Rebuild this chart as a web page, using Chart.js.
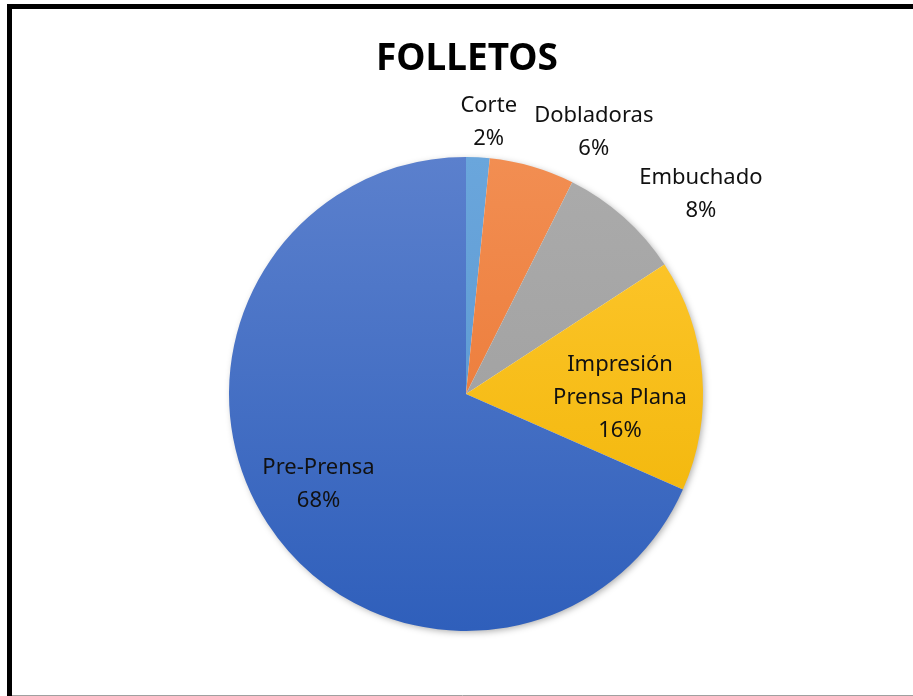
<!DOCTYPE html>
<html>
<head>
<meta charset="utf-8">
<script src="https://cdn.jsdelivr.net/npm/chart.js@4"></script>
<style>
  body { margin: 0; background: #fff; }
  #wrap { width: 913px; height: 696px; }
</style>
</head>
<body>
<div id="wrap"><canvas id="chart" width="913" height="696"></canvas></div>
<script>
const chartTitle = 'FOLLETOS';
const categories = [['Corte'], ['Dobladoras'], ['Embuchado'], ['Impresión', 'Prensa Plana'], ['Pre-Prensa']];
const values = [1.6, 5.8, 8.4, 15.8, 68.4];

// top / bottom colours of each slice gradient
const colorsTop = ['#6aa6dc', '#f28e52', '#ababab', '#ffc933', '#5b80cd'];
const colorsBottom = ['#5592cc', '#e8702a', '#9b9b9b', '#efb200', '#2f5fbb'];

// label nudges: radius factor and angle shift (deg) from the slice middle
const labelPlace = [
    { r: 1.15, da: 1.9 },
    { r: 1.23, da: 9.8 },
    { r: 1.30, da: 7.9 },
    { r: 0.65, da: 6.2 },
    { r: 0.73, da: 1.6 }
];

function sliceFill(ctx) {
    const chart = ctx.chart;
    const area = chart.chartArea;
    if (!area) return colorsTop[ctx.dataIndex];
    const g = chart.ctx.createLinearGradient(0, area.top, 0, area.bottom);
    g.addColorStop(0, colorsTop[ctx.dataIndex]);
    g.addColorStop(1, colorsBottom[ctx.dataIndex]);
    return g;
}

const decor = {
    id: 'decor',
    beforeDatasetsDraw(chart) {
        const arc = chart.getDatasetMeta(0).data[0];
        if (!arc) return;
        const c = chart.ctx;
        c.save();
        c.shadowColor = 'rgba(0,0,0,0.35)';
        c.shadowBlur = 7;
        c.shadowOffsetX = 2;
        c.shadowOffsetY = 2;
        c.fillStyle = '#ffffff';
        c.beginPath();
        c.arc(arc.x, arc.y, arc.outerRadius - 1, 0, Math.PI * 2);
        c.fill();
        c.restore();
    },
    afterDraw(chart) {
        const c = chart.ctx;
        c.save();
        // frame
        c.strokeStyle = '#000';
        c.lineWidth = 5;
        c.strokeRect(9.5, 6.5, 1200, 1200);
        c.strokeStyle = '#a0a0a0';
        c.lineWidth = 1;
        c.beginPath();
        c.moveTo(12, 695.5);
        c.lineTo(913, 695.5);
        c.stroke();

        // title
        c.fillStyle = '#000';
        c.textAlign = 'center';
        c.textBaseline = 'alphabetic';
        c.font = 'bold 37px "Noto Sans"';
        c.fillText(chartTitle, 467, 70);

        // slice labels
        const total = values.reduce((a, b) => a + b, 0);
        c.font = '22px "Noto Sans"';
        c.textBaseline = 'middle';
        c.fillStyle = '#111';
        chart.getDatasetMeta(0).data.forEach((arc, i) => {
            const p = labelPlace[i];
            const a = (arc.startAngle + arc.endAngle) / 2 + p.da * Math.PI / 180;
            const x = arc.x + Math.cos(a) * arc.outerRadius * p.r;
            const y = arc.y + Math.sin(a) * arc.outerRadius * p.r;
            const lines = categories[i].concat([Math.round(values[i] / total * 100) + '%']);
            const lh = 33;
            lines.forEach((t, k) => {
                c.fillText(t, x, y + (k - (lines.length - 1) / 2) * lh);
            });
        });
        c.restore();
    }
};

new Chart(document.getElementById('chart'), {
    type: 'pie',
    data: {
        labels: categories.map(l => l.join(' ')),
        datasets: [{
            data: values,
            backgroundColor: sliceFill,
            borderWidth: 0
        }]
    },
    options: {
        responsive: false,
        animation: false,
        layout: { padding: { top: 157, bottom: 65, left: 229, right: 210 } },
        plugins: {
            legend: { display: false },
            title: { display: false },
            tooltip: { enabled: false }
        }
    },
    plugins: [decor]
});
</script>
</body>
</html>
